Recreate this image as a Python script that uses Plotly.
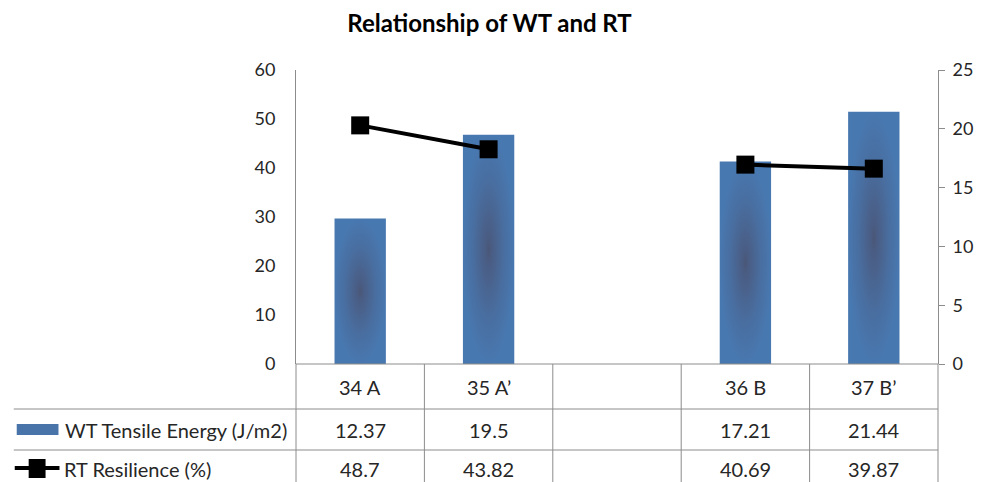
import plotly.graph_objects as go

categories = ["34 A", "35 A\u2019", "", "36 B", "37 B\u2019"]
wt_tensile = [12.37, 19.5, None, 17.21, 21.44]
rt_resilience = [48.7, 43.82, None, 40.69, 39.87]
wt_name = "WT Tensile Energy (J/m2)"
rt_name = "RT Resilience (%)"
title_text = "Relationship of WT and RT"

x = list(range(len(categories)))
FONT = "Lato, Carlito, Calibri, sans-serif"
GRID = "#8c8c8c"
TXT = "#262626"
TSIZE = 20

fig = go.Figure()
fig.add_trace(go.Bar(x=x, y=wt_tensile, name=wt_name, yaxis="y", width=0.4,
                     marker=dict(color="#4874AA", line=dict(width=0))))
fig.add_trace(go.Scatter(x=x, y=rt_resilience, name=rt_name, yaxis="y2", mode="lines+markers",
                         line=dict(color="black", width=4),
                         marker=dict(symbol="square", size=18, color="black"),
                         connectgaps=False))

W, H = 985, 482
L, R, T, B = 296, 43, 70, 118
pw, ph = W - L - R, H - T - B

def px2x(p):
    return (p - L) / pw

def py2y(p):
    return (H - B - p) / ph

shapes = []
line_style = dict(color=GRID, width=1)
n = len(categories)
for k in range(n + 1):
    shapes.append(dict(type="line", xref="paper", yref="paper", x0=k / n, x1=k / n,
                       y0=0, y1=py2y(H + 5), line=line_style))
for yy in (409, 450):
    shapes.append(dict(type="line", xref="paper", yref="paper", x0=px2x(12), x1=1,
                       y0=py2y(yy), y1=py2y(yy), line=line_style))
shapes.append(dict(type="line", xref="paper", yref="paper", x0=0, x1=1, y0=0, y1=0, line=line_style))
# legend keys
shapes.append(dict(type="rect", xref="paper", yref="paper", x0=px2x(15), x1=px2x(57),
                   y0=py2y(435), y1=py2y(424), fillcolor="#4874AA", line=dict(width=0), layer="above"))
shapes.append(dict(type="line", xref="paper", yref="paper", x0=px2x(13), x1=px2x(58),
                   y0=py2y(468), y1=py2y(468), line=dict(color="black", width=4)))
shapes.append(dict(type="rect", xref="paper", yref="paper", x0=px2x(27), x1=px2x(44),
                   y0=py2y(478), y1=py2y(459), fillcolor="black", line=dict(width=0)))

annotations = []
row_y = [py2y(387), py2y(430), py2y(469)]
tf = dict(size=TSIZE, color=TXT, family=FONT)
for i, c in enumerate(categories):
    annotations.append(dict(x=i, xref="x", y=row_y[0], yref="paper", text=c, showarrow=False,
                            yanchor="middle", font=tf))
    if wt_tensile[i] is not None:
        annotations.append(dict(x=i, xref="x", y=row_y[1], yref="paper", text=f"{wt_tensile[i]:g}",
                                showarrow=False, yanchor="middle", font=tf))
    if rt_resilience[i] is not None:
        annotations.append(dict(x=i, xref="x", y=row_y[2], yref="paper", text=f"{rt_resilience[i]:g}",
                                showarrow=False, yanchor="middle", font=tf))
annotations.append(dict(x=px2x(62), xref="paper", y=row_y[1], yref="paper", text=wt_name,
                        xanchor="left", yanchor="middle", showarrow=False, font=tf))
annotations.append(dict(x=px2x(61), xref="paper", y=row_y[2], yref="paper", text=rt_name,
                        xanchor="left", yanchor="middle", showarrow=False, font=tf))

fig.update_layout(
    width=W, height=H,
    margin=dict(l=L, r=R, t=T, b=B),
    paper_bgcolor="white", plot_bgcolor="white",
    showlegend=False,
    title=dict(text="<b>" + title_text + "</b>", x=0.497, xanchor="center", y=0.952, yanchor="middle",
               font=dict(size=24, color="black", family=FONT)),
    xaxis=dict(range=[-0.5, n - 0.5], showticklabels=False, showgrid=False, zeroline=False,
               showline=False, ticks=""),
    yaxis=dict(range=[0, 25], dtick=5, side="right", showgrid=False,
               zeroline=False, showline=True, linecolor=GRID, ticks="outside", ticklen=6,
               tickcolor=GRID, ticklabelstandoff=4, tickfont=dict(size=18, color=TXT, family=FONT)),
    yaxis2=dict(range=[0, 60], dtick=10, overlaying="y", side="left", showgrid=False, zeroline=False,
                showline=True, linecolor=GRID, ticks="", ticklabelstandoff=16,
                tickfont=dict(size=18, color=TXT, family=FONT)),
    shapes=shapes,
    annotations=annotations,
)

post = """
(function(){
  document.body.style.margin = '0';
  document.body.style.padding = '0';
  var gd = document.getElementById('{plot_id}');
  function apply(){
    var svg = gd.querySelector('.main-svg');
    var defs = svg.querySelector('defs');
    var ns = 'http://www.w3.org/2000/svg';
    if(!document.getElementById('bargrad')){
      var g = document.createElementNS(ns, 'radialGradient');
      g.setAttribute('id', 'bargrad');
      g.setAttribute('cx', '0.5'); g.setAttribute('cy', '0.5'); g.setAttribute('r', '0.5');
      var stops = [['0%', '#4a5676'], ['10%', '#4a5c82'], ['60%', '#496ea0'], ['100%', '#4878b0']];
      stops.forEach(function(s){
        var st = document.createElementNS(ns, 'stop');
        st.setAttribute('offset', s[0]); st.setAttribute('stop-color', s[1]);
        g.appendChild(st);
      });
      defs.appendChild(g);
    }
    gd.querySelectorAll('.trace.bars .point path').forEach(function(p){
      p.style.fill = 'url(#bargrad)';
    });
  }
  apply();
  gd.on('plotly_afterplot', apply);
})();
"""
fig.write_html("out.html", post_script=post, config={"displayModeBar": False})
